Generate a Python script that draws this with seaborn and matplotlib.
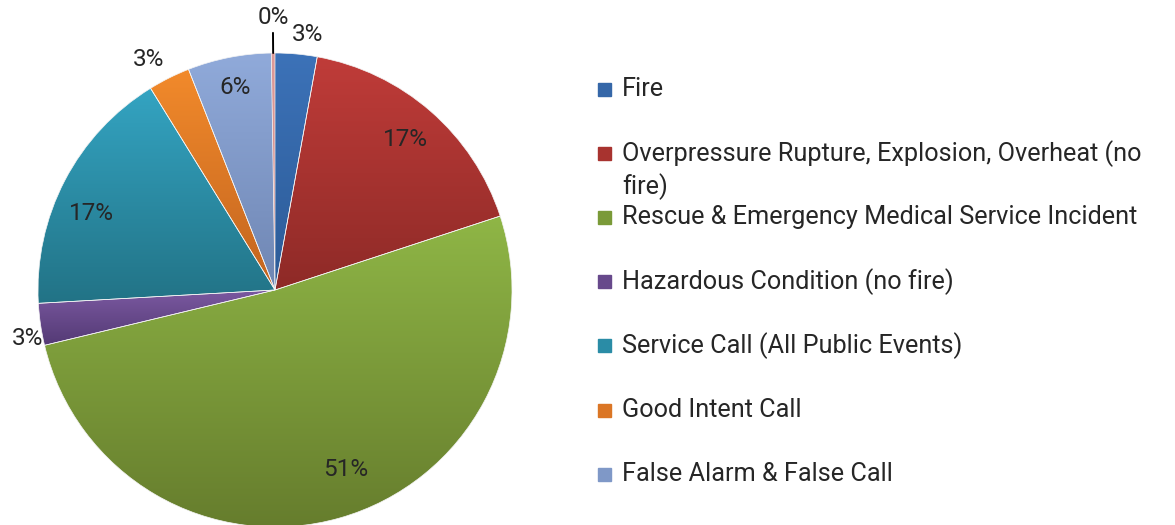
import numpy as np
import seaborn as sns
import matplotlib.pyplot as plt
from matplotlib.colors import LinearSegmentedColormap
from matplotlib.patches import Rectangle

# data (share of incidents, percent)
categories = ['Fire',
              'Overpressure Rupture, Explosion, Overheat (no\nfire)',
              'Rescue & Emergency Medical Service Incident',
              'Hazardous Condition (no fire)',
              'Service Call (All Public Events)',
              'Good Intent Call',
              'False Alarm & False Call',
              'Other']
shares = [2.86, 17.14, 51.43, 2.86, 17.14, 2.86, 5.71, 0.25]

# gradient colours per slice (top, bottom)
grad_top = ['#3C72B8', '#C03C39', '#8FB646', '#7B59A1', '#34A4C2', '#F28A2B', '#90AADA', '#DC9A98']
grad_bot = ['#2C5B97', '#8E2A27', '#667D2D', '#543A75', '#227386', '#C2641F', '#6F86B3', '#D48C8A']
legend_col = ['#3567A8', '#A8332F', '#7A9A38', '#67498B', '#2A8CA6', '#DB7625', '#7F98C7']
# label placement: radius (fraction of pie radius) and angle nudge (deg)
label_r = [1.085, 0.84, 0.815, 1.064, 0.84, 1.108, 0.87, 1.15]
label_da = [-2.1, 0, 5.5, 2.8, 4.8, 2.2, 0, 0]

sns.set_theme(style='white')
plt.rcParams['font.family'] = ['Roboto', 'DejaVu Sans']
txt_col = '#262626'

W, H = 1175, 525
fig = plt.figure(figsize=(W / 100, H / 100), dpi=100)
ax = fig.add_axes([38 / W, -2 / H, 474 / W, 474 / H])

wedges, _ = ax.pie(shares, startangle=90, counterclock=False, radius=1,
                   wedgeprops=dict(linewidth=0.5, edgecolor='#F4F4F4'))

grad = np.linspace(0, 1, 256)[:, None]
for w, ct, cb in zip(wedges, grad_top, grad_bot):
    w.set_facecolor('none')
    w.set_zorder(3)
    bb = w.get_path().get_extents()
    cmap = LinearSegmentedColormap.from_list('g', [cb, ct])
    im = ax.imshow(grad, cmap=cmap, origin='lower', aspect='auto',
                   extent=(bb.x0, bb.x1, bb.y0, bb.y1), interpolation='bilinear', zorder=2)
    im.set_clip_path(w)
wedges[-1].set_edgecolor('none')

total = sum(shares)
cum = np.cumsum(shares)
for i, v in enumerate(shares):
    mid = 90 - 360 * (cum[i] - v / 2) / total
    r = label_r[i]
    a = np.deg2rad(mid + label_da[i])
    ax.text(r * np.cos(a), r * np.sin(a), f'{round(100 * v / total):.0f}%',
            ha='center', va='center', fontsize=17.5,
            color=txt_col, zorder=5)
    if v / total < 0.01:
        ax.plot([np.cos(a), 1.085 * np.cos(a)], [np.sin(a), 1.085 * np.sin(a)],
                color='black', lw=1.4, zorder=5, clip_on=False)

ax.set_xlim(-1, 1)
ax.set_ylim(-1, 1)
ax.axis('off')

# legend (first seven categories)
y0, step, line_h = 89, 64.2, 33
for i, (lab, col) in enumerate(zip(categories[:7], legend_col)):
    yc = y0 + i * step
    fig.patches.append(Rectangle((598 / W, 1 - (yc + 6.5) / H), 13 / W, 13 / H,
                                 transform=fig.transFigure, color=col))
    for j, line in enumerate(lab.split('\n')):
        fig.text(622 / W, 1 - (yc + j * line_h) / H, line, ha='left', va='center',
                 fontsize=18.2, color=txt_col)

fig.savefig('out.png', dpi=100)
